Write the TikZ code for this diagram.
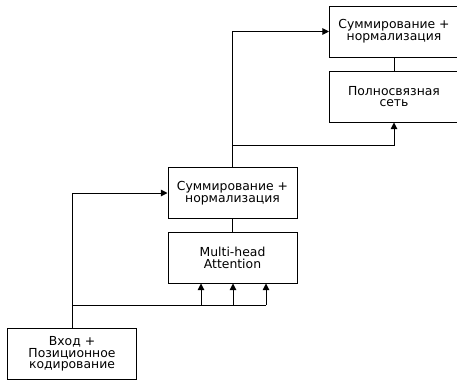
\documentclass[tikz,border=0pt]{standalone}
\usepackage{fontspec}
\setmainfont{DejaVu Sans}
\usetikzlibrary{arrows.meta}
\begin{document}
\begin{tikzpicture}[x=0.75pt,y=-0.75pt,
  blk/.style={draw, line width=0.75pt, minimum width=129*0.75pt, minimum height=51*0.75pt,
    align=center, inner sep=1pt, font=\fontsize{9.3}{8.8}\selectfont},
  ln/.style={line width=0.75pt},
  arr/.style={ln, -{Triangle[length=5pt,width=5pt]}}]
\useasboundingbox (0,0) rectangle (457,379);
\node[blk] (in) at (72,354) {Вход +\\Позиционное\\кодирование};
\node[blk] (mha) at (232.5,258) {Multi-head\\Attention};
\node[blk] (s1) at (232.5,193) {Суммирование +\\нормализация};
\node[blk] (ffn) at (394,96.5) {Полносвязная\\сеть};
\node[blk] (s2) at (394,31.5) {Суммирование +\\нормализация};
\coordinate (j1) at (72,305);
\coordinate (j2) at (233,145);
% input branch
\draw[arr] (in.north) |- (s1.west);
\draw[ln] (j1) -- (266,305);
\draw[arr] (201,305) -- (201,283.5);
\draw[arr] (233,305) -- (233,283.5);
\draw[arr] (266,305) -- (266,283.5);
\draw[ln] (mha.north) -- (s1.south);
\draw[arr] (s1.north) |- (s2.west);
\draw[arr] (j2) -| (ffn.south);
\draw[ln] (ffn.north) -- (s2.south);
\end{tikzpicture}
\end{document}
